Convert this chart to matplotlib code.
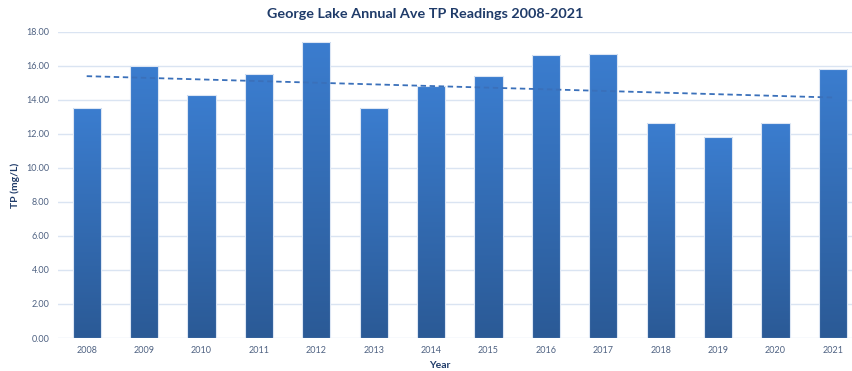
import numpy as np
import matplotlib.pyplot as plt
from matplotlib.colors import LinearSegmentedColormap

# annual average total phosphorus, George Lake
years = ['2008', '2009', '2010', '2011', '2012', '2013', '2014',
         '2015', '2016', '2017', '2018', '2019', '2020', '2021']
tp = [13.5, 16.0, 14.3, 15.5, 17.4, 13.5, 14.8,
      15.4, 16.6, 16.7, 12.6, 11.8, 12.6, 15.8]

plt.rcParams['font.family'] = ['Lato', 'DejaVu Sans']

W, H = 853, 371
fig = plt.figure(figsize=(W / 100, H / 100), dpi=100)
ax = fig.add_axes([58 / W, 33 / H, (853 - 58) / W, 306.5 / H])

x = np.arange(len(years))
bars = ax.bar(x, tp, width=0.49, color='none', edgecolor='#dce6f4', linewidth=0.8, zorder=3)

# vertical gradient fill for each bar
grad = LinearSegmentedColormap.from_list('bluegrad', ['#2b5a96', '#3b7dcf'])
ramp = np.linspace(0, 1, 256).reshape(-1, 1)
for b in bars:
    x0, w, h = b.get_x(), b.get_width(), b.get_height()
    im = ax.imshow(ramp, cmap=grad, aspect='auto', origin='lower',
                   extent=[x0, x0 + w, 0, h], zorder=2)
    im.set_clip_path(b)

# linear trend line
k, c = np.polyfit(x, tp, 1)
ax.plot(x, k * x + c, linestyle=(0, (3, 2)), color='#3a70ba', linewidth=1.3, zorder=4)

ax.set_xlim(-0.5, 13.35)
ax.set_ylim(0, 18)
ax.set_yticks(np.arange(0, 18.1, 2))
ax.set_yticklabels([f'{v:.2f}' for v in np.arange(0, 18.1, 2)])
ax.set_xticks(x)
ax.set_xticklabels(years)
ax.grid(axis='y', color='#dae4f2', linewidth=1.0, zorder=0)
ax.set_axisbelow(True)
for s in ax.spines.values():
    s.set_visible(False)
ax.tick_params(length=0, labelsize=6.5, labelcolor='#4f6282', pad=6)

fig.text(425 / W, 1 - 14 / H, 'George Lake Annual Ave TP Readings 2008-2021',
         fontsize=10.4, fontweight='bold', color='#1f3b69', ha='center', va='center')
fig.text(15 / W, 1 - 185 / H, 'TP (mg/L)', fontsize=7.5, fontweight='bold',
         color='#1f3b69', rotation=90, ha='center', va='center')
fig.text(440 / W, 1 - 365.5 / H, 'Year', fontsize=7.5, fontweight='bold',
         color='#1f3b69', ha='center', va='center')

fig.savefig('out.png', dpi=100)
